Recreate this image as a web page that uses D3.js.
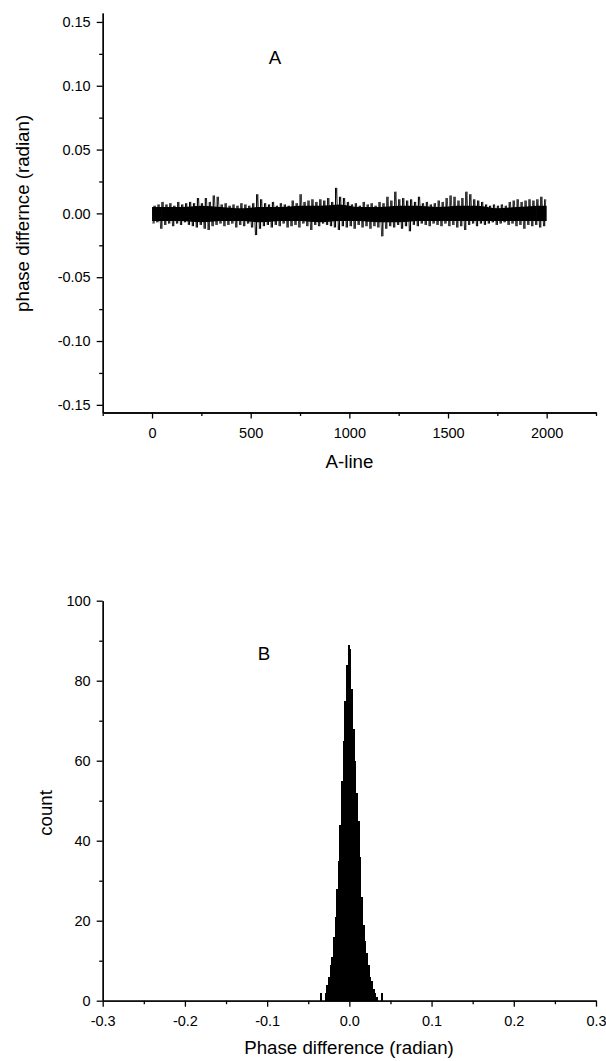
<!DOCTYPE html>
<html>
<head>
<meta charset="utf-8">
<script src="https://cdn.jsdelivr.net/npm/d3@7"></script>
<style>
  body { margin: 0; background: #fff; }
  svg { display: block; font-family: "Liberation Sans", Arial, Helvetica, sans-serif; }
  .axis path, .axis line { stroke: #000; stroke-width: 1.3; }
  .axis text { font-size: 14.5px; fill: #000; }
  .title { font-size: 18.7px; fill: #000; }
</style>
</head>
<body>
<div id="chart"></div>
<script>
// ---- panel A: phase difference per A-line (max / min read per 20 A-lines)
var aLineStep = 20;
var phaseHigh = [
  0.006, 0.007, 0.009, 0.007, 0.008, 0.006, 0.009, 0.007, 0.008, 0.009,
  0.008, 0.012, 0.008, 0.012, 0.009, 0.014, 0.013, 0.007, 0.008, 0.006,
  0.007, 0.006, 0.008, 0.007, 0.006, 0.008, 0.015, 0.011, 0.008, 0.007,
  0.009, 0.006, 0.008, 0.007, 0.006, 0.010, 0.008, 0.015, 0.009, 0.010,
  0.011, 0.009, 0.011, 0.010, 0.012, 0.009, 0.020, 0.013, 0.012, 0.009,
  0.007, 0.008, 0.006, 0.009, 0.007, 0.008, 0.006, 0.009, 0.008, 0.013,
  0.010, 0.017, 0.011, 0.012, 0.010, 0.011, 0.009, 0.013, 0.008, 0.009,
  0.007, 0.008, 0.010, 0.009, 0.012, 0.014, 0.013, 0.010, 0.012, 0.017,
  0.015, 0.011, 0.010, 0.009, 0.007, 0.006, 0.007, 0.006, 0.007, 0.006,
  0.009, 0.010, 0.011, 0.009, 0.010, 0.011, 0.010, 0.011, 0.013, 0.011
];
var phaseLow = [
  -0.008, -0.007, -0.012, -0.009, -0.008, -0.010, -0.008, -0.009, -0.007, -0.009,
  -0.010, -0.011, -0.009, -0.012, -0.013, -0.010, -0.009, -0.008, -0.010, -0.009,
  -0.008, -0.011, -0.009, -0.010, -0.008, -0.011, -0.017, -0.012, -0.010, -0.009,
  -0.011, -0.009, -0.010, -0.008, -0.011, -0.010, -0.009, -0.011, -0.008, -0.010,
  -0.013, -0.009, -0.010, -0.008, -0.009, -0.010, -0.011, -0.013, -0.010, -0.011,
  -0.010, -0.012, -0.009, -0.011, -0.010, -0.012, -0.010, -0.011, -0.018, -0.012,
  -0.010, -0.011, -0.009, -0.012, -0.010, -0.014, -0.009, -0.010, -0.008, -0.009,
  -0.010, -0.008, -0.009, -0.010, -0.008, -0.010, -0.009, -0.011, -0.010, -0.013,
  -0.009, -0.008, -0.010, -0.008, -0.009, -0.008, -0.007, -0.009, -0.008, -0.007,
  -0.009, -0.008, -0.010, -0.009, -0.012, -0.009, -0.010, -0.009, -0.011, -0.010
];
// dense part of the trace, read per 100 A-lines
var coreStep = 100;
var coreHigh = [
  0.005, 0.005, 0.006, 0.005, 0.004, 0.005, 0.005, 0.006, 0.006, 0.007,
  0.005, 0.005, 0.006, 0.006, 0.005, 0.006, 0.006, 0.004, 0.005, 0.006
];
var coreLow = [
  -0.006, -0.006, -0.007, -0.006, -0.006, -0.007, -0.006, -0.006, -0.007, -0.006,
  -0.006, -0.007, -0.007, -0.006, -0.006, -0.006, -0.006, -0.006, -0.006, -0.006
];
var aLineTicks = [0, 500, 1000, 1500, 2000];
var aLineMinor = [-250, 250, 750, 1250, 1750, 2250];
var phaseTicks = [-0.15, -0.10, -0.05, 0, 0.05, 0.10, 0.15];
var phaseMinor = [-0.125, -0.075, -0.025, 0.025, 0.075, 0.125];

// ---- panel B: histogram of phase difference (bins of 0.002 rad)
var histStart = -0.036;
var histWidth = 0.002;
var histCounts = [
  2, 0, 0, 2, 4, 6, 9, 11, 16, 21,
  28, 35, 44, 55, 65, 75, 84, 89, 88, 78,
  68, 60, 52, 45, 36, 26, 19, 15, 12, 9,
  6, 5, 3, 2, 1, 0, 0, 2
];
var histXTicks = [-0.3, -0.2, -0.1, 0, 0.1, 0.2, 0.3];
var histXMinor = [-0.25, -0.15, -0.05, 0.05, 0.15, 0.25];
var countTicks = [0, 20, 40, 60, 80, 100];
var countMinor = [10, 30, 50, 70, 90];

function init() {
    var w = 606, h = 1061;
    var left = 102.7, right = 596;

    var svg = d3.select("#chart").append("svg")
        .attr("width", w)
        .attr("height", h);

    var hyphen = function(f) { return function(d) { return f(d).replace("\u2212", "-"); }; };

    // ---------- A ----------
    var xA = d3.scaleLinear().domain([-250, 2250]).range([left, right]);
    var yA = d3.scaleLinear().domain([-0.156, 0.157]).range([412.5, 13]);

    // solid core of the trace
    var core = d3.area()
        .x(function(d, i) { return xA(Math.min(i * coreStep + coreStep / 2, 2000)); })
        .y0(function(d, i) { return yA(coreLow[i]); })
        .y1(function(d) { return yA(d); })
        .curve(d3.curveMonotoneX);
    svg.append("path")
        .datum(coreHigh)
        .attr("d", core)
        .attr("fill", "#000");
    // left / right ends of the band
    svg.append("rect")
        .attr("x", xA(0)).attr("width", xA(coreStep / 2) - xA(0))
        .attr("y", yA(coreHigh[0])).attr("height", yA(coreLow[0]) - yA(coreHigh[0]))
        .attr("fill", "#000");
    var n = coreHigh.length - 1;
    svg.append("rect")
        .attr("x", xA(n * coreStep + coreStep / 2)).attr("width", xA(2000) - xA(n * coreStep + coreStep / 2))
        .attr("y", yA(coreHigh[n])).attr("height", yA(coreLow[n]) - yA(coreHigh[n]))
        .attr("fill", "#000");

    // spikes: max / min of every block of 20 A-lines
    svg.append("g")
        .selectAll("line")
        .data(phaseHigh)
        .enter()
        .append("line")
        .attr("x1", function(d, i) { return xA(i * aLineStep + 10); })
        .attr("x2", function(d, i) { return xA(i * aLineStep + 10); })
        .attr("y1", function(d) { return yA(d); })
        .attr("y2", function(d, i) { return yA(phaseLow[i]); })
        .attr("stroke", "#000")
        .attr("stroke-width", 1.1);

    // thin zigzag between the blocks for the noisy texture
    var pts = [];
    phaseHigh.forEach(function(v, i) {
        pts.push({a: i * aLineStep + 4, v: phaseLow[i]});
        pts.push({a: i * aLineStep + 16, v: v});
    });
    var line = d3.line()
        .x(function(d) { return xA(d.a); })
        .y(function(d) { return yA(d.v); });
    svg.append("path")
        .datum(pts)
        .attr("d", line)
        .attr("fill", "none")
        .attr("stroke", "#000")
        .attr("stroke-width", 0.7);

    svg.append("g").attr("class", "axis")
        .attr("transform", "translate(0," + yA.range()[0] + ")")
        .call(d3.axisBottom(xA).tickValues(aLineTicks).tickSize(6).tickSizeOuter(0).tickPadding(9).tickFormat(d3.format("d")));
    svg.append("g").attr("class", "axis")
        .attr("transform", "translate(0," + yA.range()[0] + ")")
        .call(d3.axisBottom(xA).tickValues(aLineMinor).tickSize(3.5).tickSizeOuter(0).tickFormat(""));
    svg.append("g").attr("class", "axis")
        .attr("transform", "translate(" + left + ",0)")
        .call(d3.axisLeft(yA).tickValues(phaseTicks).tickSize(6).tickSizeOuter(0).tickPadding(6).tickFormat(hyphen(d3.format(".2f"))));
    svg.append("g").attr("class", "axis")
        .attr("transform", "translate(" + left + ",0)")
        .call(d3.axisLeft(yA).tickValues(phaseMinor).tickSize(3.5).tickSizeOuter(0).tickFormat(""));

    svg.append("text").attr("class", "title")
        .attr("transform", "translate(29," + yA(0) + ") rotate(-90)")
        .attr("text-anchor", "middle")
        .text("phase differnce (radian)");
    svg.append("text").attr("class", "title")
        .attr("x", 349.5).attr("y", 468)
        .attr("text-anchor", "middle")
        .text("A-line");
    svg.append("text").attr("class", "title")
        .attr("x", 275).attr("y", 64)
        .attr("text-anchor", "middle")
        .text("A");

    // ---------- B ----------
    var xB = d3.scaleLinear().domain([-0.3, 0.3]).range([left, right]);
    var yB = d3.scaleLinear().domain([0, 100]).range([1000.7, 600.7]);

    svg.append("g")
        .attr("shape-rendering", "crispEdges")
        .selectAll("rect")
        .data(histCounts)
        .enter()
        .append("rect")
        .attr("x", function(d, i) { return xB(histStart + i * histWidth); })
        .attr("width", xB(histWidth) - xB(0) + 0.5)
        .attr("y", function(d) { return yB(d); })
        .attr("height", function(d) { return yB(0) - yB(d); })
        .attr("fill", "#000");

    svg.append("g").attr("class", "axis")
        .attr("transform", "translate(0," + yB(0) + ")")
        .call(d3.axisBottom(xB).tickValues(histXTicks).tickSize(6).tickSizeOuter(0).tickPadding(9).tickFormat(hyphen(d3.format(".1f"))));
    svg.append("g").attr("class", "axis")
        .attr("transform", "translate(0," + yB(0) + ")")
        .call(d3.axisBottom(xB).tickValues(histXMinor).tickSize(3.5).tickSizeOuter(0).tickFormat(""));
    svg.append("g").attr("class", "axis")
        .attr("transform", "translate(" + left + ",0)")
        .call(d3.axisLeft(yB).tickValues(countTicks).tickSize(6).tickSizeOuter(0).tickPadding(6).tickFormat(d3.format("d")));
    svg.append("g").attr("class", "axis")
        .attr("transform", "translate(" + left + ",0)")
        .call(d3.axisLeft(yB).tickValues(countMinor).tickSize(3.5).tickSizeOuter(0).tickFormat(""));

    svg.append("text").attr("class", "title")
        .attr("transform", "translate(51.5,813) rotate(-90)")
        .attr("text-anchor", "middle")
        .text("count");
    svg.append("text").attr("class", "title")
        .attr("x", 349).attr("y", 1054)
        .attr("text-anchor", "middle")
        .text("Phase difference (radian)");
    svg.append("text").attr("class", "title")
        .attr("x", 264).attr("y", 660)
        .attr("text-anchor", "middle")
        .text("B");
}

window.onload = init;
</script>
</body>
</html>
